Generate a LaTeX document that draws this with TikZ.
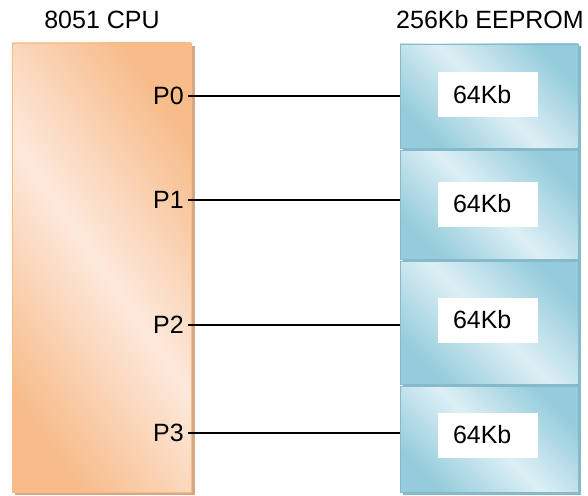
\documentclass[tikz,border=0pt]{standalone}
\usepackage{fontspec}
\setmainfont{Liberation Sans}
\definecolor{orD}{HTML}{F7BC8A}
\definecolor{orL}{HTML}{FDE9DC}
\definecolor{orS}{HTML}{D9A782}
\definecolor{blD}{HTML}{94CCDB}
\definecolor{blL}{HTML}{DDEFF5}
\definecolor{blS}{HTML}{86BACA}
\pgfdeclarehorizontalshading{cpushade}{100bp}{color(0bp)=(orD); color(25bp)=(orD); color(50bp)=(orL); color(75bp)=(orD); color(100bp)=(orD)}
\pgfdeclarehorizontalshading{memshade}{100bp}{color(0bp)=(blD); color(25bp)=(blD); color(50bp)=(blL); color(75bp)=(blD); color(100bp)=(blD)}
\tikzset{
  lbl/.style={font=\fontsize{25}{29}\selectfont, inner sep=0pt},
  cpubox/.style={shading=cpushade, shading angle=35, draw=orD, line width=0.6pt},
  memblk/.style={shading=memshade, shading angle=45, draw=blS, line width=0.8pt},
  kbox/.style={fill=white, draw=none, minimum height=45pt, text width=70pt, inner xsep=15pt, inner ysep=0pt, align=left, font=\fontsize{25}{29}\selectfont},
  wire/.style={draw=black, line width=1.1pt}
}
\begin{document}
\begin{tikzpicture}[x=1pt,y=-1pt]
\useasboundingbox (0,0) rectangle (588,495);
% shadows
\fill[orS] (15,46) rectangle (195,495);
\fill[blS] (403,46) rectangle (581,495);
% CPU
\shade[cpubox] (12,43) rectangle (191,492);
\coordinate (cpu) at (101.5,267.5);
\node[lbl, anchor=base] (cputitle) at (102,29) {8051 CPU};
% EEPROM blocks
\shade[memblk] (400,44) rectangle (578,148);
\shade[memblk] (400,150) rectangle (578,259);
\shade[memblk] (400,261) rectangle (578,384);
\shade[memblk] (400,386) rectangle (578,492);
\node[lbl, anchor=base] (eetitle) at (490,29) {256Kb EEPROM};
\coordinate (e0) at (400,96);
\coordinate (e1) at (400,200);
\coordinate (e2) at (400,325);
\coordinate (e3) at (400,433);
\node[kbox] (k0) at (488,94.5) {64Kb};
\node[kbox] (k1) at (488,204) {64Kb};
\node[kbox] (k2) at (488,320) {64Kb};
\node[kbox] (k3) at (488,435) {64Kb};
% ports
\node[lbl, anchor=east] (p0) at (184,96) {P0};
\node[lbl, anchor=east] (p1) at (184,200) {P1};
\node[lbl, anchor=east] (p2) at (184,325) {P2};
\node[lbl, anchor=east] (p3) at (184,433) {P3};
\draw[wire] ([xshift=4pt]p0.east) -- (e0);
\draw[wire] ([xshift=4pt]p1.east) -- (e1);
\draw[wire] ([xshift=4pt]p2.east) -- (e2);
\draw[wire] ([xshift=4pt]p3.east) -- (e3);
\end{tikzpicture}
\end{document}
